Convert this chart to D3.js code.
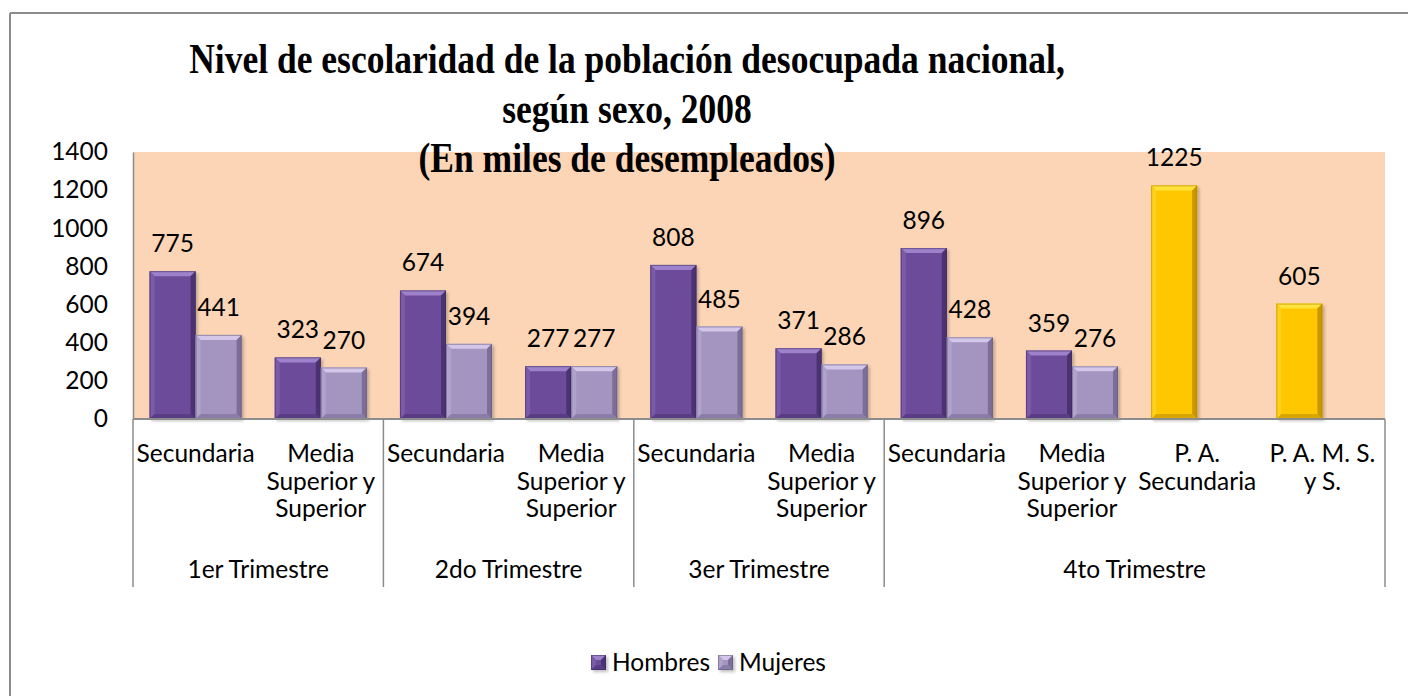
<html>
<head>
<script src="https://d3js.org/d3.v7.min.js"></script>
<style>
body { margin: 0; background: #fff; }
text { font-family: Lato, "DejaVu Sans", sans-serif; fill: #000; }
.title { font-family: "Liberation Serif", "Times New Roman", serif; font-weight: bold; }
</style>
</head>
<body>
<svg width="1408" height="696"></svg>

<script>
// data
var categories = ["Secundaria", "Media Superior y Superior", "Secundaria", "Media Superior y Superior",
                  "Secundaria", "Media Superior y Superior", "Secundaria", "Media Superior y Superior",
                  "P. A. Secundaria", "P. A. M. S. y S."];
var categoryLines = [["Secundaria"], ["Media", "Superior y", "Superior"], ["Secundaria"], ["Media", "Superior y", "Superior"],
                     ["Secundaria"], ["Media", "Superior y", "Superior"], ["Secundaria"], ["Media", "Superior y", "Superior"],
                     ["P. A.", "Secundaria"], ["P. A. M. S.", "y S."]];
var groups = ["1er Trimestre", "2do Trimestre", "3er Trimestre", "4to Trimestre"];
var groupSizes = [2, 2, 2, 4];
var hombres = [775, 323, 674, 277, 808, 371, 896, 359, 1225, 605];
var mujeres = [441, 270, 394, 277, 485, 286, 428, 276, null, null];
var highlighted = ["P. A. Secundaria", "P. A. M. S. y S."];
var seriesNames = ["Hombres", "Mujeres"];
var yTicks = [0, 200, 400, 600, 800, 1000, 1200, 1400];
var titleLines = ["Nivel de escolaridad de la población desocupada nacional,", "según sexo, 2008", "(En miles de desempleados)"];

var svg = d3.select("svg");

var plotLeft = 133, plotRight = 1385, plotTop = 152, plotBottom = 419, axisBottom = 587;
var fontSize = "24.5px";

var palette = {
  Hombres: { base: "#6c4c9a", top: "#9d82cb", left: "#7a5aa9", right: "#4b3273", bottom: "#583c84", edge: "#3b2858" },
  Mujeres: { base: "#a395bf", top: "#d2c7e8", left: "#afa2cb", right: "#7c6e9b", bottom: "#8b7daa", edge: "#5f5478" },
  Destacado: { base: "#ffc700", top: "#ffe23c", left: "#ffd11c", right: "#c99700", bottom: "#d8a600", edge: "#a67c00" }
};

// outer frame (only left and top edges are inside the picture)
svg.append("line").attr("x1", 10).attr("y1", 13).attr("x2", 1408).attr("y2", 13)
  .attr("stroke", "#8c8c8c").attr("stroke-width", 2);
svg.append("line").attr("x1", 10).attr("y1", 13).attr("x2", 10).attr("y2", 696)
  .attr("stroke", "#8c8c8c").attr("stroke-width", 2);

var x = d3.scaleBand().domain(d3.range(categories.length)).range([plotLeft, plotRight]);
var xs = d3.scaleBand().domain(seriesNames).range([0, x.bandwidth()]).paddingOuter(0.36);
var y = d3.scaleLinear().domain([0, 1400]).range([plotBottom, plotTop]);

svg.append("rect").attr("x", plotLeft).attr("y", plotTop)
  .attr("width", plotRight - plotLeft).attr("height", plotBottom - plotTop)
  .attr("fill", "#fbd5b5");

var defs = svg.append("defs");
var shadow = defs.append("filter").attr("id", "shadow").attr("x", "-20%").attr("y", "-20%").attr("width", "150%").attr("height", "150%");
shadow.append("feDropShadow").attr("dx", 2).attr("dy", 2).attr("stdDeviation", 1.5)
  .attr("flood-color", "#000").attr("flood-opacity", 0.25);

function bevelBar(g, bx, by, w, h, c) {
  var b = Math.min(5, h / 2, w / 2);
  var bar = g.append("g");
  bar.append("rect").attr("x", bx).attr("y", by).attr("width", w).attr("height", h)
    .attr("fill", c.base).attr("filter", "url(#shadow)");
  bar.append("polygon").attr("fill", c.top)
    .attr("points", [[bx, by], [bx + w, by], [bx + w - b, by + b], [bx + b, by + b]].join(" "));
  bar.append("polygon").attr("fill", c.left)
    .attr("points", [[bx, by], [bx + b, by + b], [bx + b, by + h - b], [bx, by + h]].join(" "));
  bar.append("polygon").attr("fill", c.right)
    .attr("points", [[bx + w, by], [bx + w, by + h], [bx + w - b, by + h - b], [bx + w - b, by + b]].join(" "));
  bar.append("polygon").attr("fill", c.bottom)
    .attr("points", [[bx, by + h], [bx + b, by + h - b], [bx + w - b, by + h - b], [bx + w, by + h]].join(" "));
  bar.append("rect").attr("x", bx + 0.5).attr("y", by + 0.5).attr("width", w - 1).attr("height", h - 1)
    .attr("fill", "none").attr("stroke", c.edge).attr("stroke-opacity", 0.5);
}

// bars and value labels
var barLayer = svg.append("g");
var labelLayer = svg.append("g");
var seriesValues = { Hombres: hombres, Mujeres: mujeres };
seriesNames.forEach(function (s) {
  seriesValues[s].forEach(function (v, i) {
    if (v === null) return;
    var c = palette[s];
    if (highlighted.indexOf(categories[i]) >= 0) c = palette.Destacado;
    var bx = x(i) + xs(s);
    bevelBar(barLayer, bx, y(v), xs.bandwidth(), y(0) - y(v), c);
    labelLayer.append("text").text(v)
      .attr("x", bx + xs.bandwidth() / 2)
      .attr("y", y(v) - 19)
      .attr("text-anchor", "middle")
      .style("font-size", fontSize);
  });
});

// value axis
var yaxis = d3.axisLeft(y).tickValues(yTicks).tickFormat(d3.format("d")).tickSize(0).tickPadding(25);
var ya = svg.append("g").attr("transform", "translate(" + plotLeft + ",0)").call(yaxis);
ya.select(".domain").attr("stroke", "#8c8c8c").attr("stroke-width", 1.5);
ya.selectAll("text").style("font-family", "Lato, sans-serif").style("font-size", fontSize).attr("fill", "#000");

// category axis, two levels
svg.append("line").attr("x1", plotLeft).attr("x2", plotRight).attr("y1", plotBottom).attr("y2", plotBottom)
  .attr("stroke", "#8c8c8c").attr("stroke-width", 2);

categoryLines.forEach(function (lines, i) {
  var t = svg.append("text").attr("text-anchor", "middle").style("font-size", fontSize);
  lines.forEach(function (ln, j) {
    t.append("tspan").text(ln).attr("x", x(i) + x.bandwidth() / 2).attr("y", 462 + j * 27.5);
  });
});

var start = 0;
var bounds = [plotLeft];
groups.forEach(function (gname, k) {
  var x0 = x(start), x1 = x(start + groupSizes[k] - 1) + x.bandwidth();
  svg.append("text").text(gname)
    .attr("x", (x0 + x1) / 2).attr("y", 578)
    .attr("text-anchor", "middle").style("font-size", fontSize);
  bounds.push(x1);
  start += groupSizes[k];
});
bounds.forEach(function (bx) {
  svg.append("line").attr("x1", bx).attr("x2", bx).attr("y1", plotBottom).attr("y2", axisBottom)
    .attr("stroke", "#8c8c8c").attr("stroke-width", 1.5);
});

// title (glyphs in the original are a bit stretched vertically)
titleLines.forEach(function (ln, j) {
  svg.append("text").attr("class", "title").text(ln)
    .attr("transform", "translate(627," + (73 + j * 49.5) + ") scale(1,1.17)")
    .attr("text-anchor", "middle").style("font-size", "35.5px");
});

// legend
var legend = svg.append("g");
var legendX = [591, 718];
seriesNames.forEach(function (s, i) {
  bevelBar(legend, legendX[i], 655, 15, 15, palette[s]);
  legend.append("text").text(s)
    .attr("x", legendX[i] + 21).attr("y", 671)
    .style("font-size", fontSize);
});
</script>
</body>
</html>
